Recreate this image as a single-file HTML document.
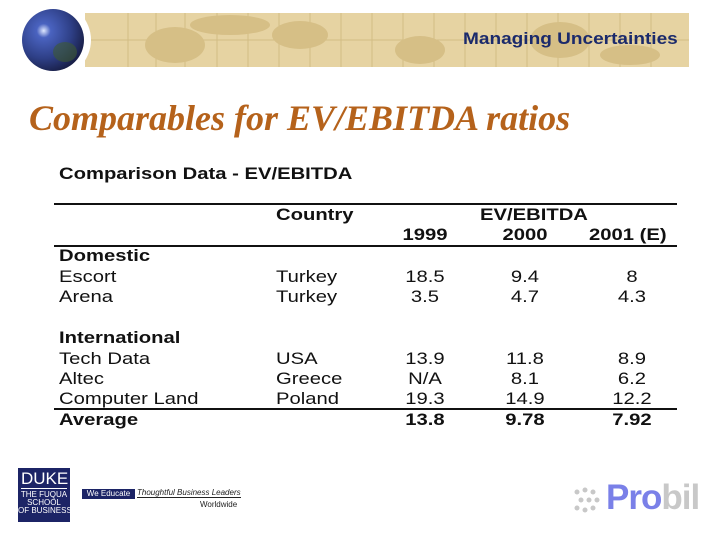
<!DOCTYPE html>
<html><head><meta charset="utf-8"><style>
body{margin:0;width:720px;height:540px;background:#fff;position:relative;overflow:hidden;font-family:"Liberation Sans",Arial,sans-serif}
.a{position:absolute;white-space:nowrap}
.t{font-size:17px;color:#111;line-height:20px;transform:scaleX(1.19);transform-origin:left center}
.b{font-weight:bold}
.c{text-align:center;width:80px;transform-origin:center center}
.hr{position:absolute;left:54px;width:623px;background:#111}
</style></head><body>
<svg class="a" style="left:0;top:0" width="720" height="80">
<defs><radialGradient id="g" cx="0.35" cy="0.35" r="0.75"><stop offset="0" stop-color="#dfe8ff"/><stop offset="0.15" stop-color="#4a63c0"/><stop offset="0.6" stop-color="#2e3f86"/><stop offset="1" stop-color="#14183a"/></radialGradient></defs>
<rect x="85" y="13" width="604" height="54" fill="#e6d3a2"/>
<g stroke="#d2bc84" stroke-width="1">
<line x1="85" y1="40" x2="689" y2="40"/>
<line x1="128" y1="13" x2="128" y2="67"/><line x1="156" y1="13" x2="156" y2="67"/><line x1="185" y1="13" x2="185" y2="67"/><line x1="217" y1="13" x2="217" y2="67"/><line x1="248" y1="13" x2="248" y2="67"/><line x1="279" y1="13" x2="279" y2="67"/><line x1="310" y1="13" x2="310" y2="67"/><line x1="341" y1="13" x2="341" y2="67"/><line x1="372" y1="13" x2="372" y2="67"/><line x1="403" y1="13" x2="403" y2="67"/><line x1="434" y1="13" x2="434" y2="67"/><line x1="465" y1="13" x2="465" y2="67"/><line x1="496" y1="13" x2="496" y2="67"/><line x1="527" y1="13" x2="527" y2="67"/><line x1="558" y1="13" x2="558" y2="67"/><line x1="589" y1="13" x2="589" y2="67"/><line x1="620" y1="13" x2="620" y2="67"/><line x1="651" y1="13" x2="651" y2="67"/>
</g>
<g fill="#d6bf86"><ellipse cx="175" cy="45" rx="30" ry="18"/><ellipse cx="230" cy="25" rx="40" ry="10"/><ellipse cx="300" cy="35" rx="28" ry="14"/><ellipse cx="420" cy="50" rx="25" ry="14"/><ellipse cx="560" cy="40" rx="30" ry="18"/><ellipse cx="630" cy="55" rx="30" ry="10"/></g>
<circle cx="53" cy="40" r="38" fill="#fff"/>
<circle cx="53" cy="40" r="31" fill="url(#g)"/>
<ellipse cx="65" cy="52" rx="12" ry="10" fill="#3d5a30" opacity="0.6"/>
</svg>
<div class="a b" style="right:42px;top:29px;font-size:17px;color:#1b2a6b;transform:scaleX(1.12);transform-origin:right center">Managing Uncertainties</div>
<div class="a" style="left:29px;top:100px;font-family:'Liberation Serif',serif;font-style:italic;font-weight:bold;font-size:36px;line-height:36px;color:#b5621b">Comparables for EV/EBITDA ratios</div>
<div class="a t b" style="left:59px;top:164px">Comparison Data - EV/EBITDA</div>
<div class="hr" style="top:203px;height:2px"></div>
<div class="hr" style="top:245px;height:2px"></div>
<div class="hr" style="top:408px;height:2px"></div>
<div class="a t b" style="left:276px;top:205px">Country</div>
<div class="a t b" style="left:480px;top:205px">EV/EBITDA</div>
<div class="a t b c" style="left:385px;top:225px">1999</div>
<div class="a t b c" style="left:485px;top:225px">2000</div>
<div class="a t b" style="left:589px;top:225px">2001 (E)</div>
<div class="a t b" style="left:59px;top:246px">Domestic</div>
<div class="a t" style="left:59px;top:267px">Escort</div><div class="a t" style="left:276px;top:267px">Turkey</div>
<div class="a t c" style="left:385px;top:267px">18.5</div><div class="a t c" style="left:485px;top:267px">9.4</div><div class="a t c" style="left:592px;top:267px">8</div>
<div class="a t" style="left:59px;top:287px">Arena</div><div class="a t" style="left:276px;top:287px">Turkey</div>
<div class="a t c" style="left:385px;top:287px">3.5</div><div class="a t c" style="left:485px;top:287px">4.7</div><div class="a t c" style="left:592px;top:287px">4.3</div>
<div class="a t b" style="left:59px;top:328px">International</div>
<div class="a t" style="left:59px;top:349px">Tech Data</div><div class="a t" style="left:276px;top:349px">USA</div>
<div class="a t c" style="left:385px;top:349px">13.9</div><div class="a t c" style="left:485px;top:349px">11.8</div><div class="a t c" style="left:592px;top:349px">8.9</div>
<div class="a t" style="left:59px;top:369px">Altec</div><div class="a t" style="left:276px;top:369px">Greece</div>
<div class="a t c" style="left:385px;top:369px">N/A</div><div class="a t c" style="left:485px;top:369px">8.1</div><div class="a t c" style="left:592px;top:369px">6.2</div>
<div class="a t" style="left:59px;top:389px">Computer Land</div><div class="a t" style="left:276px;top:389px">Poland</div>
<div class="a t c" style="left:385px;top:389px">19.3</div><div class="a t c" style="left:485px;top:389px">14.9</div><div class="a t c" style="left:592px;top:389px">12.2</div>
<div class="a t b" style="left:59px;top:410px">Average</div>
<div class="a t b c" style="left:385px;top:410px">13.8</div><div class="a t b c" style="left:485px;top:410px">9.78</div><div class="a t b c" style="left:592px;top:410px">7.92</div>
<div class="a" style="left:18px;top:468px;width:52px;height:54px;background:#1c2466;color:#fff;text-align:center;font-size:8px;line-height:8px">
<div style="font-size:17px;line-height:18px;margin-top:2px;border-bottom:1px solid #fff;margin-left:3px;margin-right:3px">DUKE</div>
<div style="margin-top:2px">THE FUQUA<br>SCHOOL<br>OF BUSINESS</div></div>
<div class="a" style="left:82px;top:489px;width:53px;height:10px;background:#1c2466;color:#fff;font-size:8px;line-height:10px;text-align:center">We Educate</div>
<div class="a" style="left:137px;top:488px;font-size:8px;font-style:italic;color:#222;border-bottom:1px solid #222">Thoughtful Business Leaders</div>
<div class="a" style="left:200px;top:500px;font-size:8px;color:#222">Worldwide</div>
<svg class="a" style="left:572px;top:484px" width="40" height="34"><g fill="#c8c8c8"><circle cx="5" cy="8" r="2.5"/><circle cx="13" cy="6" r="2.5"/><circle cx="21" cy="8" r="2.5"/><circle cx="9" cy="16" r="2.5"/><circle cx="17" cy="16" r="2.5"/><circle cx="25" cy="16" r="2.5"/><circle cx="5" cy="24" r="2.5"/><circle cx="13" cy="26" r="2.5"/><circle cx="21" cy="24" r="2.5"/></g></svg>
<div class="a b" style="left:606px;top:478px;font-size:35px;letter-spacing:-1px"><span style="color:#7a80e8">Pro</span><span style="color:#c8c8c8">bil</span></div>
</body></html>
